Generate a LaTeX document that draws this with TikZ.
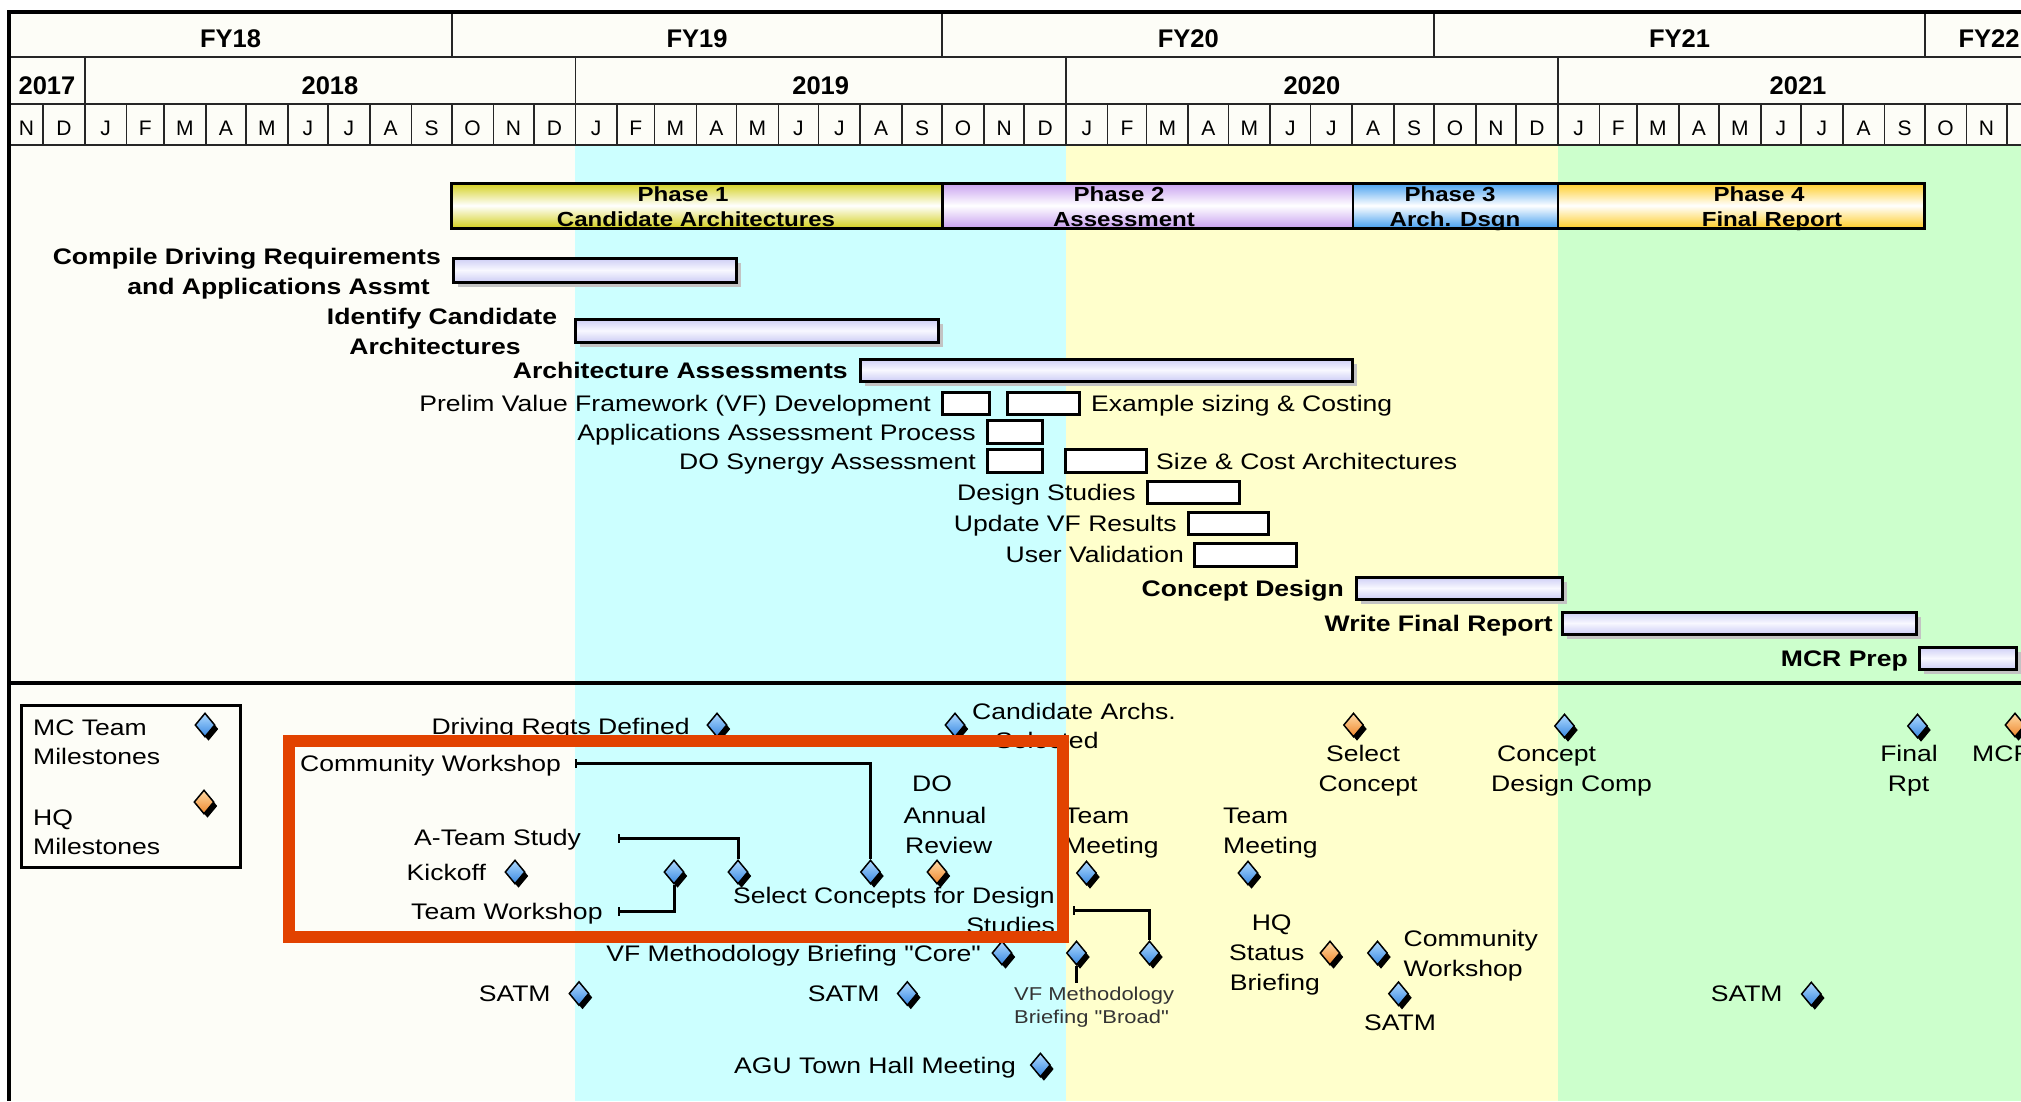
\documentclass[tikz,border=0pt]{standalone}
\usepackage{fontspec}
\setmainfont{Liberation Sans}
\newfontfamily\wfont{Liberation Sans}[FakeStretch=1.18]
\usetikzlibrary{shapes.geometric,shadows,arrows.meta}
\definecolor{offw}{RGB}{253,253,247}
\definecolor{bandc}{RGB}{204,255,255}
\definecolor{bandy}{RGB}{255,255,204}
\definecolor{bandg}{RGB}{204,255,204}
\definecolor{ph1}{RGB}{212,208,30}
\definecolor{ph2}{RGB}{200,160,240}
\definecolor{ph3}{RGB}{70,160,240}
\definecolor{ph4}{RGB}{255,205,40}
\definecolor{barlav}{RGB}{205,205,245}
\definecolor{barmid}{RGB}{248,248,255}
\definecolor{shgray}{RGB}{195,195,195}
\definecolor{dbL}{RGB}{175,218,255}
\definecolor{dbD}{RGB}{55,135,225}
\definecolor{doL}{RGB}{255,218,165}
\definecolor{doD}{RGB}{238,135,45}
\definecolor{redbox}{RGB}{226,66,0}
\begin{document}
\begin{tikzpicture}[x=1pt,y=-1pt,
  lbl/.style={inner sep=0pt, font=\wfont\fontsize{22.5}{27}\selectfont},
  blbl/.style={inner sep=0pt, font=\wfont\bfseries\fontsize{22.5}{27}\selectfont},
  plbl/.style={inner sep=0pt, font=\wfont\bfseries\fontsize{20.4}{24}\selectfont},
  slbl/.style={inner sep=0pt, text=black!80, font=\wfont\fontsize{18.6}{22}\selectfont},
  hlbl/.style={inner sep=0pt, font=\bfseries\fontsize{25.5}{30}\selectfont},
  mlbl/.style={inner sep=0pt, font=\fontsize{21}{25}\selectfont},
  gridl/.style={line width=1.6pt, draw=black!85},
  taskbar/.style={draw=black, line width=3pt, top color=barlav, bottom color=barlav, middle color=barmid},
  subbox/.style={draw=black, line width=3pt, fill=white},
  msb/.style={diamond, draw=black, line width=1.5pt, minimum width=20pt, minimum height=24pt, inner sep=0pt,
    top color=dbL, bottom color=dbD,
    drop shadow={shadow xshift=3.5pt, shadow yshift=-4pt, fill=black, opacity=1}},
  mso/.style={msb, top color=doL, bottom color=doD},
  conn/.style={line width=3pt, {Bar[width=9pt,line width=2pt]}-}
]
\useasboundingbox (0,0) rectangle (2021,1101);
\clip (0,0) rectangle (2021,1101);
\fill[white] (0,0) rectangle (2021,1101);
% header background
\fill[offw] (9,12) rectangle (2021,145);
% bands
\fill[offw] (9,145) rectangle (575.4,1101);
\fill[bandc] (575.4,145) rectangle (1065.9,1101);
\fill[bandy] (1065.9,145) rectangle (1557.8,1101);
\fill[bandg] (1557.8,145) rectangle (2021,1101);

% header grid
\draw[gridl] (9,57) -- (2021,57);
\draw[gridl] (9,104) -- (2021,104);
\draw[gridl] (9,145) -- (2021,145);
\foreach \d in {273,638,1004,1369} \draw[gridl] ({84.8+1.344*\d},12) -- ({84.8+1.344*\d},57);
\foreach \d in {0,365,730,1096} \draw[gridl] ({84.8+1.344*\d},57) -- ({84.8+1.344*\d},104);
\foreach \d in {-31,0,31,59,90,120,151,181,212,243,273,304,334,365,396,424,455,485,516,546,577,608,638,669,699,730,761,790,821,851,882,912,943,974,1004,1035,1065,1096,1127,1155,1186,1216,1247,1277,1308,1339,1369,1400,1430,1461}
  \draw[gridl] ({84.8+1.344*\d},104) -- ({84.8+1.344*\d},145);

\node[hlbl, anchor=base] (fy18) at (230.5,47) {FY18};
\node[hlbl, anchor=base] (fy19) at (697,47) {FY19};
\node[hlbl, anchor=base] (fy20) at (1188.3,47) {FY20};
\node[hlbl, anchor=base] (fy21) at (1679.5,47) {FY21};
\node[hlbl, anchor=base] (fy22) at (1989,47) {FY22};
\node[hlbl, anchor=base] (y17) at (47,94) {2017};
\node[hlbl, anchor=base] (y18) at (330,94) {2018};
\node[hlbl, anchor=base] (y19) at (820.7,94) {2019};
\node[hlbl, anchor=base] (y20) at (1311.9,94) {2020};
\node[hlbl, anchor=base] (y21) at (1798,94) {2021};
\foreach \a/\b/\l [count=\i] in {-56/-31/N,-31/0/D,0/31/J,31/59/F,59/90/M,90/120/A,120/151/M,151/181/J,181/212/J,212/243/A,243/273/S,273/304/O,304/334/N,334/365/D,
 365/396/J,396/424/F,424/455/M,455/485/A,485/516/M,516/546/J,546/577/J,577/608/A,608/638/S,638/669/O,669/699/N,699/730/D,
 730/761/J,761/790/F,790/821/M,821/851/A,851/882/M,882/912/J,912/943/J,943/974/A,974/1004/S,1004/1035/O,1035/1065/N,1065/1096/D,
 1096/1127/J,1127/1155/F,1155/1186/M,1186/1216/A,1216/1247/M,1247/1277/J,1277/1308/J,1308/1339/A,1339/1369/S,1369/1400/O,1400/1430/N,1430/1461/D}
  \node[mlbl, anchor=base] (mo\i) at ({84.8+0.672*(\a)+0.672*(\b)},135) {\l};

% phase bars
\shade[top color=ph1, bottom color=ph1, middle color=white] (451.7,183) rectangle (942.3,228);
\shade[top color=ph2, bottom color=ph2, middle color=white] (942.3,183) rectangle (1353,228);
\shade[top color=ph3, bottom color=ph3, middle color=white] (1353,183) rectangle (1557.8,228);
\shade[top color=ph4, bottom color=ph4, middle color=white] (1557.8,183) rectangle (1924.7,228);
\node[plbl, anchor=base] (p1a) at (683,201) {Phase 1};
\node[plbl, anchor=base] (p1b) at (696,226) {Candidate Architectures};
\node[plbl, anchor=base] (p2a) at (1119,201) {Phase 2};
\node[plbl, anchor=base] (p2b) at (1124,226) {Assessment};
\node[plbl, anchor=base] (p3a) at (1450,201) {Phase 3};
\node[plbl, anchor=base] (p3b) at (1455,226) {Arch. Dsgn};
\node[plbl, anchor=base] (p4a) at (1759,201) {Phase 4};
\node[plbl, anchor=base] (p4b) at (1772,226) {Final Report};
\draw[line width=3pt] (451.7,183) rectangle (1924.7,228);
\foreach \x in {942.3,1353,1557.8} \draw[line width=2.5pt] (\x,183) -- (\x,228);

% task bars with shadows
\foreach \xa/\ya/\xb/\yb in {453/258/736/282, 575/319/938/342, 860/359/1352/381, 1356/577/1562/599, 1562/612/1916/634, 1919/647/2016/669}{
  \fill[shgray] (\xa+5,\ya+5) rectangle (\xb+5,\yb+5);
  \shade[taskbar] (\xa,\ya) rectangle (\xb,\yb);
}
% sub-task boxes
\foreach \xa/\ya/\xb/\yb in {942/392/989/414, 1007/392/1079/414, 987/420/1042/443, 987/449/1042/472, 1065/449/1146/472, 1147/481/1239/503, 1188/512/1268/534, 1194/543/1296/566}
  \draw[subbox] (\xa,\ya) rectangle (\xb,\yb);

\node[blbl, anchor=base east] (t1a) at (441,264) {Compile Driving Requirements};
\node[blbl, anchor=base east] (t1b) at (430,294) {and Applications Assmt};
\node[blbl, anchor=base] (t2a) at (442,324) {Identify Candidate};
\node[blbl, anchor=base] (t2b) at (435,354) {Architectures};
\node[blbl, anchor=base east] (t3) at (848,378) {Architecture Assessments};
\node[lbl, anchor=base east] (t4) at (931,411) {Prelim Value Framework (VF) Development};
\node[lbl, anchor=base west] (t4b) at (1091,411) {Example sizing \& Costing};
\node[lbl, anchor=base east] (t5) at (976,440) {Applications Assessment Process};
\node[lbl, anchor=base east] (t6) at (976,469) {DO Synergy Assessment};
\node[lbl, anchor=base west] (t6b) at (1156,469) {Size \& Cost Architectures};
\node[lbl, anchor=base east] (t7) at (1136,500) {Design Studies};
\node[lbl, anchor=base east] (t8) at (1177,531) {Update VF Results};
\node[lbl, anchor=base east] (t9) at (1184,562) {User Validation};
\node[blbl, anchor=base east] (t10) at (1344,596) {Concept Design};
\node[blbl, anchor=base east] (t11) at (1553,631) {Write Final Report};
\node[blbl, anchor=base east] (t12) at (1908,666) {MCR Prep};

% separator
\draw[line width=4pt] (9,683) -- (2021,683);

% legend
\draw[line width=3pt] (21,705) rectangle (240,867);
\node[lbl, anchor=base west] (lg1) at (33,735) {MC Team};
\node[lbl, anchor=base west] (lg2) at (33,764) {Milestones};
\node[lbl, anchor=base west] (lg3) at (33,825) {HQ};
\node[lbl, anchor=base west] (lg4) at (33,854) {Milestones};
\node[msb] (dlg1) at (205,725) {};
\node[mso] (dlg2) at (204,802) {};

% milestone labels
\node[lbl, anchor=base east] (m1) at (690,734) {Driving Reqts Defined};
\node[lbl, anchor=base west] (m2a) at (972,719) {Candidate Archs.};
\node[lbl, anchor=base west] (m2b) at (995,748) {Selected};
\node[lbl, anchor=base west] (m3) at (300,771) {Community Workshop};
\node[lbl, anchor=base west] (m4) at (414,845) {A-Team Study};
\node[lbl, anchor=base west] (m5) at (406.5,880) {Kickoff};
\node[lbl, anchor=base west] (m6) at (411,919) {Team Workshop};
\node[lbl, anchor=base east] (m7a) at (1055,903) {Select Concepts for Design};
\node[lbl, anchor=base east] (m7b) at (1055,933) {Studies};
\node[lbl, anchor=base west] (m8a) at (912,791) {DO};
\node[lbl, anchor=base west] (m8b) at (903.5,823) {Annual};
\node[lbl, anchor=base west] (m8c) at (905,853) {Review};
\node[lbl, anchor=base west] (m9a) at (1064,823) {Team};
\node[lbl, anchor=base west] (m9b) at (1064,853) {Meeting};
\node[lbl, anchor=base west] (m10a) at (1223,823) {Team};
\node[lbl, anchor=base west] (m10b) at (1223,853) {Meeting};
\node[lbl, anchor=base] (m11a) at (1363,761) {Select};
\node[lbl, anchor=base] (m11b) at (1368,791) {Concept};
\node[lbl, anchor=base west] (m12a) at (1497,761) {Concept};
\node[lbl, anchor=base west] (m12b) at (1491,791) {Design Comp};
\node[lbl, anchor=base] (m13a) at (1909,761) {Final};
\node[lbl, anchor=base] (m13b) at (1908.5,791) {Rpt};
\node[lbl, anchor=base west] (m14) at (1972,761) {MCR};
\node[lbl, anchor=base east] (m15) at (981,961) {VF Methodology Briefing "Core"};
\node[slbl, anchor=base west] (m16a) at (1014,1000) {VF Methodology};
\node[slbl, anchor=base west] (m16b) at (1014,1023) {Briefing "Broad"};
\node[lbl, anchor=base west] (m17) at (478.6,1001) {SATM};
\node[lbl, anchor=base west] (m18) at (807.6,1001) {SATM};
\node[lbl, anchor=base west] (m19) at (734,1073) {AGU Town Hall Meeting};
\node[lbl, anchor=base west] (m20a) at (1251.6,930) {HQ};
\node[lbl, anchor=base west] (m20b) at (1229,960) {Status};
\node[lbl, anchor=base west] (m20c) at (1229.6,990) {Briefing};
\node[lbl, anchor=base west] (m21a) at (1403.4,946) {Community};
\node[lbl, anchor=base west] (m21b) at (1403.4,976) {Workshop};
\node[lbl, anchor=base west] (m22) at (1364,1030) {SATM};
\node[lbl, anchor=base west] (m23) at (1710.6,1001) {SATM};

% diamonds
\node[msb] (ddrd) at (717,725) {};
\node[msb] (dcas) at (955,725) {};
\node[mso] (dsc) at (1353.5,725) {};
\node[msb] (dcdc) at (1564.5,726) {};
\node[msb] (dfr) at (1917.5,726) {};
\node[mso] (dmcr) at (2015,725) {};
\node[msb] (dko) at (515,872) {};
\node[msb] (dtw) at (674,872) {};
\node[msb] (dat) at (738,872) {};
\node[msb] (dcw) at (870.5,872) {};
\node[mso] (ddo) at (937,872) {};
\node[msb] (dtm1) at (1086.5,873) {};
\node[msb] (dtm2) at (1248,873) {};
\node[msb] (dcore) at (1002,953) {};
\node[msb] (dvfb) at (1076.5,953) {};
\node[msb] (dscd) at (1149.5,953) {};
\node[mso] (dhq) at (1330,953) {};
\node[msb] (dcw2) at (1377.5,953) {};
\node[msb] (ds1) at (579,993.5) {};
\node[msb] (ds2) at (907.3,993.5) {};
\node[msb] (ds3) at (1398.5,993.7) {};
\node[msb] (ds4) at (1811.3,994) {};
\node[msb] (dagu) at (1040.4,1065) {};

% connectors
\coordinate (ccw) at (575,763);
\coordinate (cat) at (618,838);
\coordinate (ctw) at (618,911);
\coordinate (csc) at (1073,910);
\coordinate (cvfb) at (1076.5,983);
\draw[conn] (ccw) -| (dcw.north);
\draw[conn] (cat) -| (dat.north);
\draw[conn] (ctw) -| (dtw.south);
\draw[conn] (csc) -| (dscd.north);
\draw[line width=3pt] (dvfb.south) -- (cvfb);

% red highlight box
\draw[redbox, line width=12pt] (289,741) rectangle (1063,937);

% borders
\draw[line width=4pt] (7,12) -- (2021,12);
\draw[line width=4pt] (9,10) -- (9,1101);
\end{tikzpicture}
\end{document}
